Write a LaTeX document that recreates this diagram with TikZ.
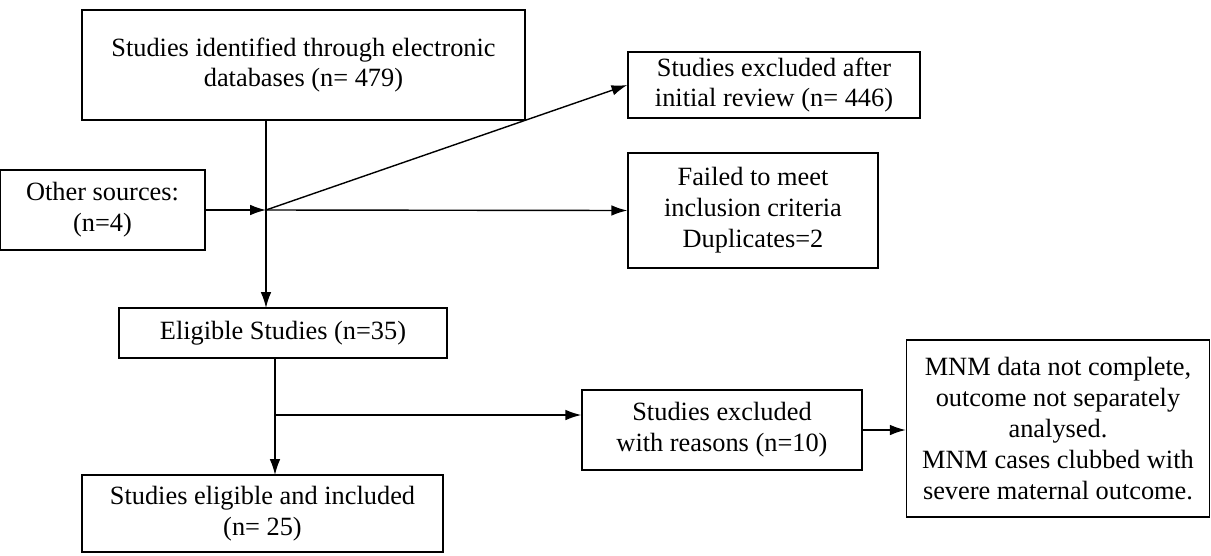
\documentclass[tikz,border=0pt]{standalone}
\usepackage{fontspec}
\setmainfont{Liberation Serif}
\usetikzlibrary{positioning,arrows.meta}
\begin{document}
\begin{tikzpicture}[x=0.02cm,y=-0.02cm,
    box/.style={draw=black, thick, align=center, inner sep=2pt,
      font=\fontsize{15}{17.6}\selectfont},
    arr/.style={thick, -{Latex[length=9pt,width=6pt]}},
]
\useasboundingbox (0,0) rectangle (1211,555);

\node[box, minimum width=443*0.02cm, minimum height=110*0.02cm] (ident) at (303.5,65) {Studies identified through electronic\\databases (n= 479)};
\node[box, minimum width=292*0.02cm, minimum height=66*0.02cm] (initial) at (774,85) {Studies excluded after\\initial review (n= 446)};
\node[box, minimum width=205*0.02cm, minimum height=80*0.02cm] (other) at (102.5,210) {Other sources:\\(n=4)};
\node[box, minimum width=250*0.02cm, minimum height=115*0.02cm] (failed) at (753,210.5) {Failed to meet\\inclusion criteria\\Duplicates=2};
\node[box, minimum width=328*0.02cm, minimum height=50*0.02cm] (eligible) at (283,333) {Eligible Studies (n=35)};
\node[box, minimum width=280*0.02cm, minimum height=80*0.02cm] (reasons) at (722,430) {Studies excluded\\with reasons (n=10)};
\node[box, minimum width=303*0.02cm, minimum height=177*0.02cm] (mnm) at (1058,428.5) {MNM data not complete,\\outcome not separately\\analysed.\\MNM cases clubbed with\\severe maternal outcome.};
\node[box, minimum width=361*0.02cm, minimum height=77*0.02cm] (included) at (262.5,513.5) {Studies eligible and included\\(n= 25)};

\coordinate (join) at (266,210);
\coordinate (split) at (275,415);

% upper stage
\draw[thick] (266,120) -- (join);
\draw[arr] (join) -- (266,308);
\draw[arr] (other.east) -- (join);
\draw[arr] (join) -- (initial.west);
\draw[arr] (join) -- (failed.west);

% lower stage
\draw[thick] (275,358) -- (split);
\draw[arr] (split) -- (275,475);
\draw[arr] (split) -- (reasons.west |- split);
\draw[arr] (reasons.east) -- (mnm.west |- reasons.east);
\end{tikzpicture}
\end{document}
